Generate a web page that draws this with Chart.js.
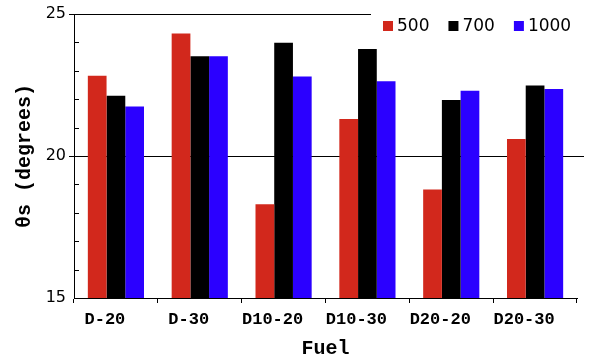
<!DOCTYPE html>
<html><head><meta charset="utf-8">
<script src="https://cdn.jsdelivr.net/npm/chart.js@4/dist/chart.umd.min.js"></script>
<style>html,body{margin:0;padding:0;background:#fff}#wrap{width:589px;height:361px}</style>
</head><body><div id="wrap"><canvas id="c"></canvas></div>
<script>
const categories = ["D-20","D-30","D10-20","D10-30","D20-20","D20-30"];
const seriesNames = ["500","700","1000"];
const s500  = [22.83, 24.31, 18.30, 21.30, 18.82, 20.60];
const s700  = [22.12, 23.51, 23.99, 23.77, 21.97, 22.48];
const s1000 = [21.74, 23.51, 22.80, 22.63, 22.30, 22.36];
const yTicks = [15, 20, 25];
const colors = ["#d2281c", "#000000", "#2b00ff"];

const legendPlugin = {
  id: 'boxLegend',
  afterDraw(chart) {
    const ctx = chart.ctx;
    ctx.save();
    ctx.fillStyle = '#fff';
    ctx.fillRect(371, 0, 218, 40);
    ctx.font = '17px "DejaVu Sans"';
    ctx.textBaseline = 'middle';
    let x = 383;
    chart.data.datasets.forEach((ds) => {
      ctx.fillStyle = ds.backgroundColor;
      ctx.fillRect(x, 21, 10, 10);
      ctx.fillStyle = '#000';
      ctx.fillText(ds.label, x + 14, 26.5);
      x += 14 + ctx.measureText(ds.label).width + 19;
    });
    ctx.restore();
  }
};

const axisExtras = {
  id: 'axisExtras',
  beforeDatasetsDraw(chart) {
    const ctx = chart.ctx, y = chart.scales.y, a = chart.chartArea;
    ctx.save();
    ctx.strokeStyle = '#000';
    ctx.lineWidth = 1;
    for (let v = 16; v < 25; v++) {
      if (v % 5 === 0) continue;
      const py = Math.round(y.getPixelForValue(v)) + 0.5;
      ctx.beginPath(); ctx.moveTo(a.left, py); ctx.lineTo(a.left + 5, py); ctx.stroke();
    }
    const p20 = Math.round(y.getPixelForValue(20)) + 0.5;
    ctx.beginPath(); ctx.moveTo(a.right, p20); ctx.lineTo(584, p20); ctx.stroke();
    ctx.restore();
  }
};

new Chart(document.getElementById('c'), {
  type: 'bar',
  data: {
    labels: categories,
    datasets: [
      { label: seriesNames[0], data: s500, backgroundColor: colors[0] },
      { label: seriesNames[1], data: s700, backgroundColor: colors[1] },
      { label: seriesNames[2], data: s1000, backgroundColor: colors[2] }
    ]
  },
  options: {
    responsive: true,
    maintainAspectRatio: false,
    animation: false,
    datasets: { bar: { categoryPercentage: 0.67, barPercentage: 1.0, borderWidth: 0 } },
    layout: { padding: { top: 14, right: 12, left: 0, bottom: 0 } },
    plugins: { legend: { display: false }, tooltip: { enabled: false } },
    scales: {
      x: {
        grid: { drawOnChartArea: false, tickLength: 5, color: '#000', offset: true },
        border: { color: '#000', width: 1 },
        ticks: { color: '#000', font: { family: '"Liberation Mono"', size: 17, weight: 'bold' }, padding: 7, maxRotation: 0, labelOffset: -11 },
        title: { display: true, text: 'Fuel', color: '#000', font: { family: '"Liberation Mono"', size: 20, weight: 'bold' }, padding: { top: 2, bottom: 0 } },
        afterFit(s) { s.height = 63; }
      },
      y: {
        min: 15, max: 25,
        grid: {
          tickLength: 5,
          color: (c) => (c.tick && (c.tick.value === 20 || c.tick.value === 25)) ? '#000' : 'rgba(0,0,0,0)',
          drawTicks: true
        },
        border: { color: '#000', width: 1 },
        ticks: {
          stepSize: 1,
          color: '#000',
          font: { family: '"DejaVu Sans"', size: 16 },
          padding: 3,
          callback: (v) => yTicks.includes(v) ? String(v) : ''
        },
        title: { display: true, text: 'θs (degrees)', color: '#000', font: { family: '"Liberation Mono"', size: 20, weight: 'bold' }, padding: { top: 13, bottom: 0 } },
        afterFit(s) { s.width = 74; }
      }
    }
  },
  plugins: [axisExtras, legendPlugin]
});
</script>
</body></html>
